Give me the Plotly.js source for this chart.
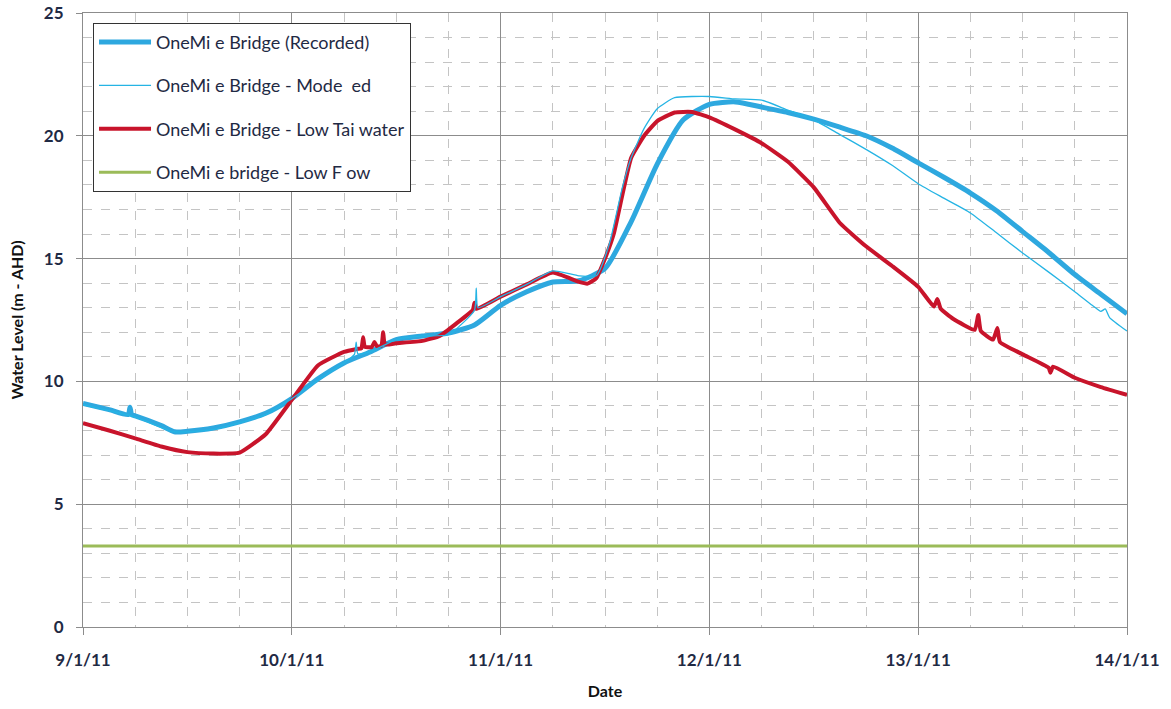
<!DOCTYPE html>
<html>
<head>
<meta charset="utf-8">
<script src="https://cdn.plot.ly/plotly-3.0.1.min.js"></script>
<style>html,body{margin:0;padding:0;background:#fff;}#chart{width:1171px;height:709px;}</style>
</head>
<body>
<div id="chart"></div>
<script>
// Hours since 9/1/2011 00:00 and water levels (m AHD)
const recordedHours = [0,3,5.2,5.4,5.6,6,9,10.5,12,15,18,21,24,27,30,33,36,39,42,45,48,51,54,57,60,63,66,69,72,75,78,81,84,87,90,93,96,99,102,105,108,111,114,117,120];
const recordedLevel = [9.1,8.85,8.65,8.95,8.64,8.6,8.2,7.95,7.97,8.1,8.35,8.7,9.3,10.1,10.75,11.2,11.7,11.85,11.97,12.3,13.1,13.65,14.05,14.1,14.6,16.5,18.85,20.65,21.28,21.38,21.17,20.95,20.68,20.35,20.0,19.5,18.9,18.3,17.67,16.95,16.1,15.25,14.35,13.55,12.75];

const modelledHours = [0,6,10.5,15,21,24,27,30,31.2,31.4,31.6,33,36,39,42,45,45.2,45.4,48,51,54,57,59,60.5,62,63,64.5,66,68,72,75,78,81,84,87,90,93,96,99,102,105,108,111,114,116,117,117.5,118,120];
const modelledLevel = [9.05,8.55,7.95,8.05,8.65,9.3,10.05,10.75,11.1,11.6,11.12,11.2,11.7,11.85,11.9,12.9,13.8,13.0,13.45,13.95,14.5,14.3,14.3,15.6,17.9,19.1,20.3,21.1,21.55,21.6,21.5,21.45,21.05,20.65,20.05,19.45,18.8,18.05,17.45,16.86,16.05,15.23,14.45,13.65,13.1,12.85,12.95,12.6,12.05];

const lowTailHours = [0,3,6,9,12,15,18,21,24,27,30,31.5,32.0,32.2,32.4,33.2,33.5,33.8,34.3,34.5,34.7,36,39,41,43,44.8,45.0,45.2,48,51,54,57,58,59,60,61,62,63,64.5,66,68,70,72,75,78,81,84,87,90,93,96,97.8,98.2,98.6,100,102.5,102.9,103.2,104.6,105.1,105.4,108,111,111.2,111.5,114,117,120];
const lowTailLevel = [8.3,8.0,7.68,7.35,7.12,7.06,7.1,7.85,9.25,10.65,11.2,11.32,11.35,11.8,11.4,11.4,11.6,11.42,11.45,12.0,11.5,11.55,11.65,11.85,12.38,12.9,13.2,12.95,13.45,13.95,14.43,14.05,13.98,14.2,15.0,16.0,17.6,19.1,20.0,20.6,20.95,20.97,20.75,20.25,19.7,18.95,17.9,16.45,15.5,14.7,13.85,13.05,13.35,12.95,12.55,12.1,12.7,12.05,11.7,12.17,11.6,11.1,10.55,10.35,10.6,10.15,9.77,9.45];

const lowFlowHours = [0,120];
const lowFlowLevel = [3.3,3.3];

const tickDates = ['2011-01-09','2011-01-10','2011-01-11','2011-01-12','2011-01-13','2011-01-14'];
const tickLabels = ['9/1/11','10/1/11','11/1/11','12/1/11','13/1/11','14/1/11'];

const seriesNames = ['OneMi e Bridge (Recorded)','OneMi e Bridge - Mode  ed','OneMi e Bridge - Low Tai water','OneMi e bridge - Low F ow'];

const base = Date.UTC(2011,0,9,0,0,0);
function toDate(h){
  const d = new Date(base + h*3600*1000);
  const p = n => String(n).padStart(2,'0');
  return d.getUTCFullYear()+'-'+p(d.getUTCMonth()+1)+'-'+p(d.getUTCDate())+' '+p(d.getUTCHours())+':'+p(d.getUTCMinutes())+':'+p(d.getUTCSeconds());
}

const traces = [
  {x: recordedHours.map(toDate), y: recordedLevel, name: seriesNames[0], mode:'lines', legendgroup:'a', legendrank:1,
   line:{color:'#2ea8df', width:5, shape:'spline', smoothing:0.6}},
  {x: modelledHours.map(toDate), y: modelledLevel, name: seriesNames[1], mode:'lines', legendgroup:'b', legendrank:2,
   line:{color:'#25b4e4', width:1.3, shape:'spline', smoothing:0.5}},
  {x: lowTailHours.map(toDate), y: lowTailLevel, name: seriesNames[2], mode:'lines', legendgroup:'c', legendrank:3,
   line:{color:'#c8142b', width:4, shape:'spline', smoothing:0.4}},
  {x: lowFlowHours.map(toDate), y: lowFlowLevel, name: seriesNames[3], mode:'lines', legendgroup:'d', legendrank:4,
   line:{color:'#9bbb59', width:3}}
];
const ordered = [traces[3], traces[0], traces[2], traces[1]];

const fontFam = 'Lato, "Open Sans", "DejaVu Sans", sans-serif';
const layout = {
  width:1171, height:709,
  margin:{l:83, r:44, t:13, b:82},
  paper_bgcolor:'#fff', plot_bgcolor:'#fff',
  showlegend:true,
  legend:{x:0.0096, y:0.984, xanchor:'left', yanchor:'top', bgcolor:'#fff', bordercolor:'#333', borderwidth:1,
    font:{family:fontFam, size:18, color:'#1f2a44'}, traceorder:'grouped', tracegroupgap:17, itemwidth:52},
  xaxis:{
    type:'date', range:['2011-01-09','2011-01-14'],
    tickmode:'array', tickvals:tickDates, ticktext:tickLabels,
    showgrid:true, gridcolor:'#8c8c8c', gridwidth:1,
    minor:{dtick:6*3600*1000, showgrid:true, gridcolor:'#c4c4c4', griddash:'dash', gridwidth:1},
    showline:true, linecolor:'#8c8c8c', linewidth:1, mirror:true,
    ticks:'outside', ticklen:7, tickcolor:'#8c8c8c', ticklabelstandoff:11,
    tickfont:{family:fontFam, size:17, color:'#1f2a44', weight:'bold'},
    title:{text:'Date', font:{family:fontFam, size:16, color:'#111', weight:'bold'}, standoff:16},
    zeroline:false
  },
  yaxis:{
    range:[0,25], tickmode:'linear', tick0:0, dtick:5,
    showgrid:true, gridcolor:'#8c8c8c', gridwidth:1,
    minor:{dtick:1, showgrid:true, gridcolor:'#c4c4c4', griddash:'dash', gridwidth:1},
    showline:true, linecolor:'#8c8c8c', linewidth:1, mirror:true,
    ticks:'outside', ticklen:6, tickcolor:'#8c8c8c', ticklabelstandoff:9,
    tickfont:{family:fontFam, size:17, color:'#1f2a44', weight:'bold'},
    title:{text:'Water Level (m - AHD)', font:{family:fontFam, size:16, color:'#111', weight:'bold'}, standoff:16},
    zeroline:false
  }
};
Plotly.newPlot('chart', ordered, layout, {displayModeBar:false, staticPlot:true});
</script>
</body>
</html>
